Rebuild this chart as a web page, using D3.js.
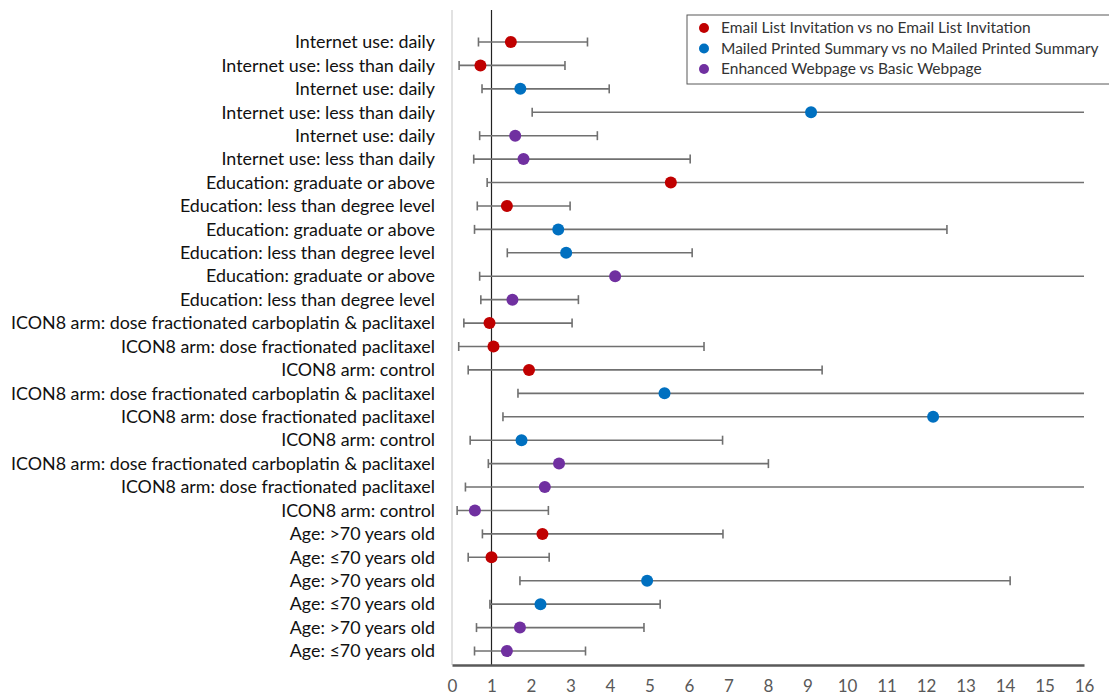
<!DOCTYPE html>
<html>
<head>
<meta charset="utf-8">
<script src="https://cdn.jsdelivr.net/npm/d3@7"></script>
<style>
  html, body { margin: 0; padding: 0; background: #fff; }
  svg { display: block; font-family: Lato, "Open Sans", sans-serif; }
</style>
</head>
<body>
<svg id="chart" width="1109" height="695"></svg>
<script>
// rows, top to bottom
const labels = [
  'Internet use: daily', 'Internet use: less than daily',
  'Internet use: daily', 'Internet use: less than daily',
  'Internet use: daily', 'Internet use: less than daily',
  'Education: graduate or above', 'Education: less than degree level',
  'Education: graduate or above', 'Education: less than degree level',
  'Education: graduate or above', 'Education: less than degree level',
  'ICON8 arm: dose fractionated carboplatin & paclitaxel', 'ICON8 arm: dose fractionated paclitaxel', 'ICON8 arm: control',
  'ICON8 arm: dose fractionated carboplatin & paclitaxel', 'ICON8 arm: dose fractionated paclitaxel', 'ICON8 arm: control',
  'ICON8 arm: dose fractionated carboplatin & paclitaxel', 'ICON8 arm: dose fractionated paclitaxel', 'ICON8 arm: control',
  'Age: >70 years old', 'Age: \u226470 years old',
  'Age: >70 years old', 'Age: \u226470 years old',
  'Age: >70 years old', 'Age: \u226470 years old'
];
// 0 = email, 1 = mailed summary, 2 = enhanced webpage
const series = [0,0,1,1,2,2, 0,0,1,1,2,2, 0,0,0,1,1,1,2,2,2, 0,0,1,1,2,2];
const estimate = [1.49,0.72,1.73,9.09,1.60,1.81, 5.54,1.39,2.69,2.89,4.13,1.53,
                  0.95,1.05,1.95,5.38,12.18,1.76,2.71,2.35,0.58, 2.29,1.00,4.94,2.24,1.72,1.39];
const lower = [0.67,0.18,0.76,2.03,0.70,0.55, 0.89,0.64,0.57,1.40,0.70,0.73,
               0.30,0.17,0.41,1.67,1.29,0.46,0.92,0.34,0.13, 0.77,0.41,1.72,0.96,0.62,0.57];
// null = upper limit runs off the axis
const upper = [3.43,2.86,3.98,null,3.68,6.03, null,2.99,12.53,6.08,null,3.20,
               3.04,6.38,9.37,null,null,6.85,8.01,null,2.44, 6.86,2.46,14.13,5.27,4.86,3.38];

const seriesNames = ['Email List Invitation vs no Email List Invitation',
                     'Mailed Printed Summary vs no Mailed Printed Summary',
                     'Enhanced Webpage vs Basic Webpage'];
const seriesColors = ['#C00000', '#0070C0', '#7030A0'];
const xTicks = d3.range(0, 17);

const svg = d3.select('#chart');
const plot = { left: 452, right: 1084, top: 10, bottom: 665 };

const x = d3.scaleLinear().domain([0, 16]).range([plot.left, plot.right]);
const y = d3.scalePoint().domain(d3.range(labels.length)).range([42, 651]);

// left border
svg.append('line').attr('x1', plot.left).attr('x2', plot.left)
  .attr('y1', plot.top).attr('y2', plot.bottom)
  .attr('stroke', '#d9d9d9').attr('stroke-width', 1.5);

// reference line at 1
svg.append('line').attr('x1', x(1)).attr('x2', x(1))
  .attr('y1', plot.top).attr('y2', plot.bottom)
  .attr('stroke', '#222').attr('stroke-width', 1.2);

// x axis
const xAxis = svg.append('g').attr('transform', `translate(0,${plot.bottom})`)
  .call(d3.axisBottom(x).tickValues(xTicks).tickSize(0).tickPadding(15).tickFormat(d3.format('d')));
xAxis.select('.domain').attr('stroke', '#595959').attr('stroke-width', 2.5);
xAxis.selectAll('text').attr('fill', '#595959').style('font-size', '17px')
  .style('font-family', 'Lato, "Open Sans", sans-serif');

// row labels
const lab = svg.append('g');
lab.selectAll('text').data(labels).join('text')
  .attr('x', 435).attr('y', (d, i) => y(i)).attr('dy', '0.35em')
  .attr('text-anchor', 'end').attr('fill', '#111').style('font-size', '16px')
  .text(d => d);
// fit longest label to the reference width
let maxW = 0;
lab.selectAll('text').each(function() { maxW = Math.max(maxW, this.getComputedTextLength()); });
const fs = 16 * 424 / maxW;
lab.selectAll('text').style('font-size', fs + 'px');

// error bars
const rows = labels.map((l, i) => ({ i, s: series[i], est: estimate[i], lo: lower[i], hi: upper[i] }));
const bars = svg.append('g').attr('stroke', '#707070').attr('stroke-width', 1.6);
bars.selectAll('line.ci').data(rows).join('line').attr('class', 'ci')
  .attr('x1', d => x(d.lo)).attr('x2', d => x(d.hi == null ? 16 : Math.min(d.hi, 16)))
  .attr('y1', d => y(d.i)).attr('y2', d => y(d.i));
bars.selectAll('line.lo').data(rows).join('line').attr('class', 'lo')
  .attr('x1', d => x(d.lo)).attr('x2', d => x(d.lo))
  .attr('y1', d => y(d.i) - 4.5).attr('y2', d => y(d.i) + 4.5);
bars.selectAll('line.hi').data(rows.filter(d => d.hi != null)).join('line').attr('class', 'hi')
  .attr('x1', d => x(d.hi)).attr('x2', d => x(d.hi))
  .attr('y1', d => y(d.i) - 4.5).attr('y2', d => y(d.i) + 4.5);

// points
svg.append('g').selectAll('circle').data(rows).join('circle')
  .attr('cx', d => x(d.est)).attr('cy', d => y(d.i)).attr('r', 6)
  .attr('fill', d => seriesColors[d.s]);

// legend
const leg = svg.append('g');
leg.append('rect').attr('x', 687).attr('y', 15).attr('width', 440).attr('height', 69)
  .attr('fill', '#fff').attr('stroke', '#595959').attr('stroke-width', 1);
const legTexts = [];
seriesNames.forEach((name, i) => {
  const ly = 28 + i * 20.5;
  leg.append('circle').attr('cx', 704).attr('cy', ly).attr('r', 5).attr('fill', seriesColors[i]);
  legTexts.push(leg.append('text').attr('x', 721).attr('y', ly).attr('dy', '0.35em')
    .attr('fill', '#333').style('font-size', '14px').text(name));
});
const legW = d3.max(legTexts, t => t.node().getComputedTextLength());
legTexts.forEach(t => t.style('font-size', (14 * 378 / legW) + 'px'));
</script>
</body>
</html>
